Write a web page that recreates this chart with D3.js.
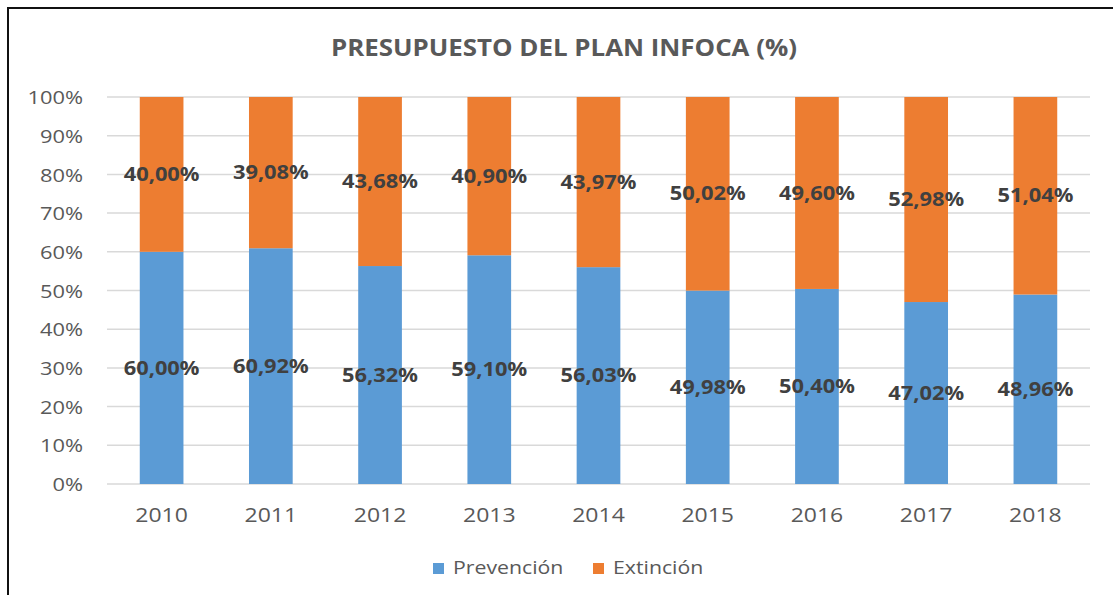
<!DOCTYPE html>
<meta charset="utf-8">
<style>
body { margin: 0; background: #fff; }
text { font-family: "Open Sans", "Noto Sans", sans-serif; }
.title { font-size: 22.5px; font-weight: bold; fill: #595959; }
.axis text { font-size: 19px; fill: #595959; }
.xaxis text { font-size: 20px; }
.label { font-size: 19px; font-weight: bold; fill: #404040; }
.legend text { font-size: 18.5px; fill: #595959; }
</style>
<body>
<script src="https://cdn.jsdelivr.net/npm/d3@7"></script>
<script>
// data
var years = ["2010", "2011", "2012", "2013", "2014", "2015", "2016", "2017", "2018"];
var prevencion = [60.00, 60.92, 56.32, 59.10, 56.03, 49.98, 50.40, 47.02, 48.96];
var extincion = [40.00, 39.08, 43.68, 40.90, 43.97, 50.02, 49.60, 52.98, 51.04];
var yTicks = [0, 10, 20, 30, 40, 50, 60, 70, 80, 90, 100];
var seriesNames = ["Prevención", "Extinción"];
var colors = ["#5B9BD5", "#ED7D31"];

var W = 1113, H = 595;
var SX = 1.15; // the source picture is a bit wide, stretch text to match

function place(sel, fx, fy) {
  sel.attr("transform", function(d, i) {
    return "translate(" + fx(d, i) + "," + fy(d, i) + ") scale(" + SX + ",1)";
  });
}

var svg = d3.select("body").append("svg")
    .attr("width", W)
    .attr("height", H);

// frame (only top and left show)
svg.append("rect")
    .attr("x", 8).attr("y", 8)
    .attr("width", W + 20).attr("height", H + 20)
    .attr("fill", "#fff")
    .attr("stroke", "#111")
    .attr("stroke-width", 2);

svg.append("text")
    .attr("class", "title")
    .attr("text-anchor", "middle")
    .attr("transform", "translate(564,56) scale(" + SX + ",1)")
    .text("PRESUPUESTO DEL PLAN INFOCA (%)");

var x = d3.scaleBand().domain(years).range([107, 1090]).paddingInner(0.6).paddingOuter(0.3);
var y = d3.scaleLinear().domain([0, 100]).range([484, 97]);

// gridlines
svg.append("g").selectAll("line")
    .data(yTicks)
  .enter().append("line")
    .attr("x1", 107).attr("x2", 1090)
    .attr("y1", function(d) { return y(d); })
    .attr("y2", function(d) { return y(d); })
    .attr("stroke", "#d9d9d9")
    .attr("stroke-width", 1.5);

// y axis
var yAxis = svg.append("g")
    .attr("class", "axis")
    .attr("transform", "translate(83,0)")
    .call(d3.axisLeft(y).tickValues(yTicks).tickSize(0).tickFormat(function(d) { return d + "%"; }));
yAxis.select(".domain").remove();
yAxis.selectAll("text").attr("x", 0).attr("dy", "0.35em")
    .attr("transform", "scale(" + SX + ",1)");

// x axis
var xAxis = svg.append("g")
    .attr("class", "axis xaxis")
    .attr("transform", "translate(0,484)")
    .call(d3.axisBottom(x).tickSize(0));
xAxis.select(".domain").remove();
xAxis.selectAll("text").attr("y", 24)
    .attr("transform", "scale(" + SX + ",1)");

var data = years.map(function(yr, i) {
  return { year: yr, p: prevencion[i], e: extincion[i] };
});
var stack = d3.stack().keys(["p", "e"])(data);

svg.append("g").selectAll("g")
    .data(stack)
  .enter().append("g")
    .attr("fill", function(d, i) { return colors[i]; })
  .selectAll("rect")
    .data(function(d) { return d; })
  .enter().append("rect")
    .attr("x", function(d) { return x(d.data.year); })
    .attr("width", x.bandwidth())
    .attr("y", function(d) { return y(d[1]); })
    .attr("height", function(d) { return y(d[0]) - y(d[1]); });

// data labels, centred in each segment
var labels = svg.append("g").selectAll("g")
    .data(stack)
  .enter().append("g")
  .selectAll("text")
    .data(function(d) { return d; })
  .enter().append("text")
    .attr("class", "label")
    .attr("text-anchor", "middle")
    .attr("dy", "0.35em")
    .text(function(d) { return (d[1] - d[0]).toFixed(2).replace(".", ",") + "%"; });
place(labels,
  function(d) { return x(d.data.year) + x.bandwidth() / 2; },
  function(d) { return y((d[0] + d[1]) / 2); });

// legend
var legend = svg.append("g").attr("class", "legend");
var lx = [433, 593];
seriesNames.forEach(function(name, i) {
  legend.append("rect")
      .attr("x", lx[i]).attr("y", 563)
      .attr("width", 11).attr("height", 11)
      .attr("fill", colors[i]);
  legend.append("text")
      .attr("dy", "0.35em")
      .attr("transform", "translate(" + (lx[i] + 20) + ",568) scale(" + SX + ",1)")
      .text(name);
});
</script>
</body>
